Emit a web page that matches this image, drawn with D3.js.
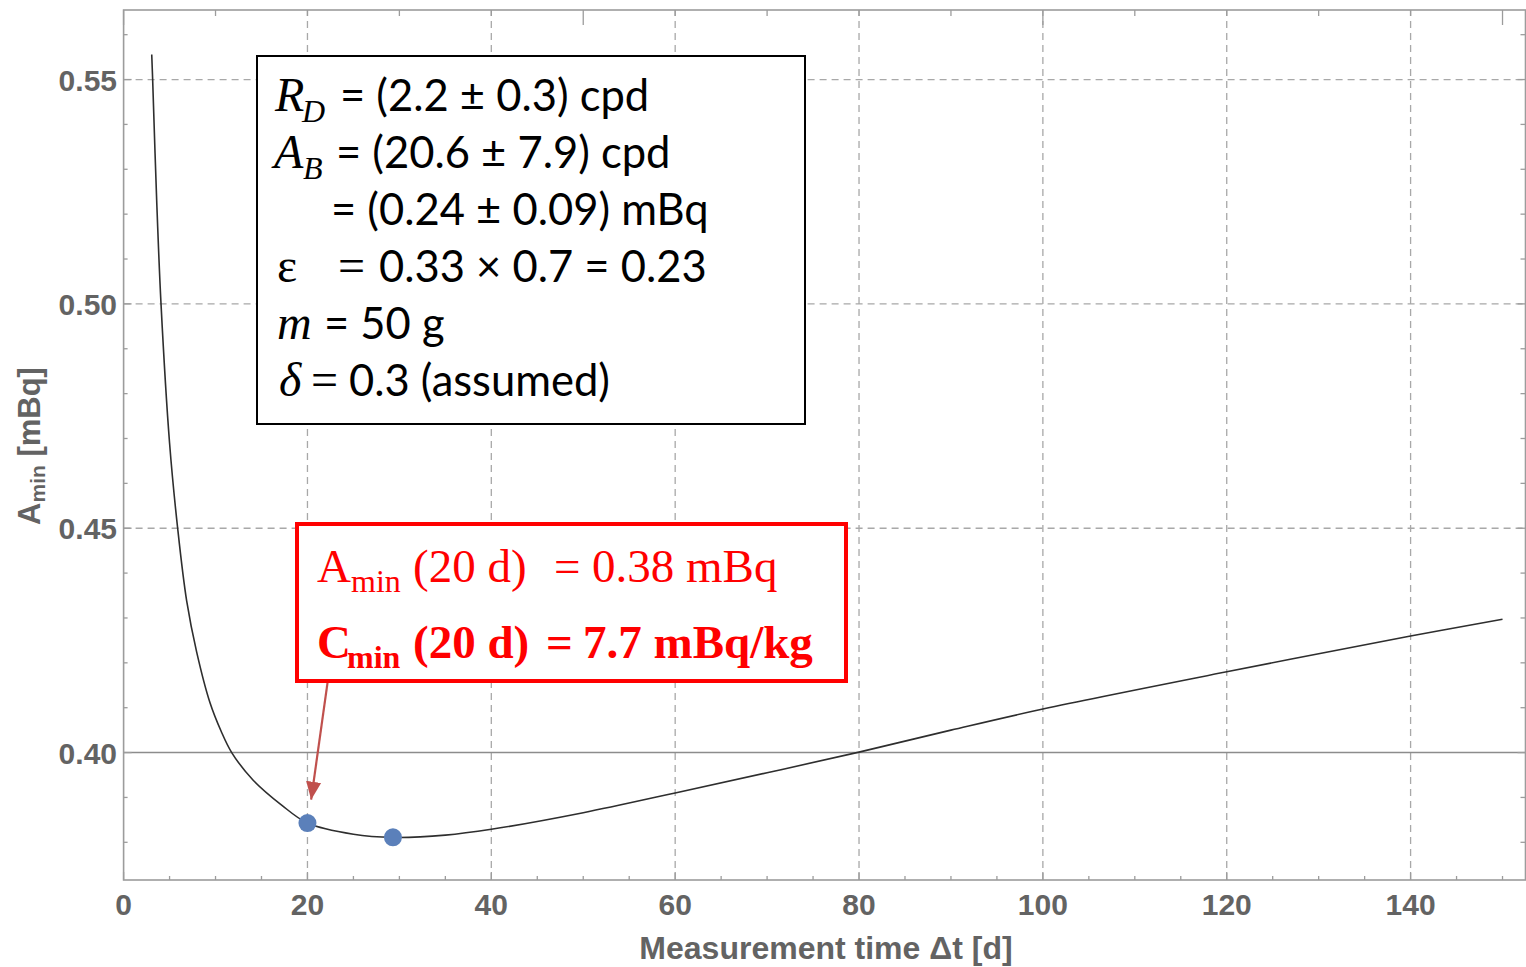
<!DOCTYPE html>
<html>
<head>
<meta charset="utf-8">
<script src="https://cdn.jsdelivr.net/npm/d3@7"></script>
<style>
  body { margin: 0; background: #fff; }
  svg { display: block; }
  .tick-label { font-family: "Liberation Sans", Arial, sans-serif; font-weight: bold; font-size: 30px; fill: #636363; }
  .sans { font-family: Lato, "Open Sans", sans-serif; }
  .serif { font-family: "Liberation Serif", "Times New Roman", serif; }
</style>
</head>
<body>
<svg id="chart" width="1526" height="967"></svg>
<script>
// A_min curve (t in days, A in mBq)
const tDays = [3.06, 3.16, 3.6, 4.07, 5.0, 5.88, 6.86, 7.95, 9.4, 10.6, 11.76, 14.07, 17.19, 20, 25, 29.3, 35, 40, 50, 60, 70, 80, 90, 100, 120, 140, 150];
const aMin  = [0.5556, 0.550, 0.523, 0.500, 0.469, 0.450, 0.4338, 0.4224, 0.4111, 0.4048, 0.400, 0.3939, 0.3883, 0.3843, 0.3818, 0.3811, 0.3816, 0.3829, 0.3866, 0.3910, 0.3955, 0.4001, 0.4050, 0.4097, 0.4180, 0.4260, 0.4297];

// highlighted points
const markT = [20, 29.3];
const markA = [0.3843, 0.3811];

// ticks
const xTicks = [0, 20, 40, 60, 80, 100, 120, 140];
const xTickLabels = ["0", "20", "40", "60", "80", "100", "120", "140"];
const yTicks = [0.40, 0.45, 0.50, 0.55];
const yTickLabels = ["0.40", "0.45", "0.50", "0.55"];
const xGrid = [20, 40, 60, 80, 100, 120, 140];
const yGrid = [0.45, 0.50, 0.55];

const svg = d3.select("#chart");

// scales (plot range padded a bit like the original)
const x = d3.scaleLinear().domain([0, 152.5]).range([123.6, 1525.5]);
const y = d3.scaleLinear().domain([0.3716, 0.5655]).range([880, 10]);

const frameColor = "#9c9c9c";

// --- grid ---
svg.append("g").selectAll("line")
  .data(xGrid).enter().append("line")
  .attr("x1", d => x(d)).attr("x2", d => x(d))
  .attr("y1", y.range()[0]).attr("y2", y.range()[1])
  .attr("stroke", "#a8a8a8").attr("stroke-width", 1.3)
  .attr("stroke-dasharray", "7,5");

svg.append("g").selectAll("line")
  .data(yGrid).enter().append("line")
  .attr("x1", x.range()[0]).attr("x2", x.range()[1])
  .attr("y1", d => y(d)).attr("y2", d => y(d))
  .attr("stroke", "#a8a8a8").attr("stroke-width", 1.3)
  .attr("stroke-dasharray", "7,5");

// axis line at 0.40
svg.append("line")
  .attr("x1", x.range()[0]).attr("x2", x.range()[1])
  .attr("y1", y(0.40)).attr("y2", y(0.40))
  .attr("stroke", "#8c8c8c").attr("stroke-width", 1.6);

// --- frame ---
svg.append("rect")
  .attr("x", x.range()[0]).attr("y", y.range()[1])
  .attr("width", x.range()[1] - x.range()[0])
  .attr("height", y.range()[0] - y.range()[1])
  .attr("fill", "none").attr("stroke", frameColor).attr("stroke-width", 1.6);

// frame ticks
const ticks = svg.append("g").attr("stroke", frameColor).attr("stroke-width", 1.3);
const bottomT = d3.range(0, 151, 5);
ticks.selectAll(".tb").data(bottomT).enter().append("line")
  .attr("x1", d => x(d)).attr("x2", d => x(d))
  .attr("y1", y.range()[0]).attr("y2", d => y.range()[0] - (d % 20 === 0 ? 8 : 4));
const topT = d3.range(0, 151, 10);
ticks.selectAll(".tt").data(topT).enter().append("line")
  .attr("x1", d => x(d)).attr("x2", d => x(d))
  .attr("y1", y.range()[1]).attr("y2", d => y.range()[1] + (d % 50 === 0 ? 15 : 6));
const sideT = d3.range(38, 57).map(d => d / 100);
ticks.selectAll(".tl").data(sideT).enter().append("line")
  .attr("x1", x.range()[0]).attr("x2", d => x.range()[0] + (Math.round(d * 100) % 5 === 0 ? 8 : 4))
  .attr("y1", d => y(d)).attr("y2", d => y(d));
ticks.selectAll(".tr").data(sideT).enter().append("line")
  .attr("x1", x.range()[1]).attr("x2", d => x.range()[1] - (Math.round(d * 100) % 5 === 0 ? 8 : 5))
  .attr("y1", d => y(d)).attr("y2", d => y(d));

// tick labels
svg.append("g").selectAll("text")
  .data(xTicks).enter().append("text")
  .attr("class", "tick-label")
  .attr("x", d => x(d)).attr("y", 915)
  .attr("text-anchor", "middle")
  .text((d, i) => xTickLabels[i]);

svg.append("g").selectAll("text")
  .data(yTicks).enter().append("text")
  .attr("class", "tick-label")
  .attr("x", 117).attr("y", d => y(d) + 11)
  .attr("text-anchor", "end")
  .text((d, i) => yTickLabels[i]);

// axis titles
svg.append("text")
  .attr("class", "tick-label")
  .attr("x", 826).attr("y", 959)
  .attr("text-anchor", "middle")
  .style("font-size", "32px")
  .text("Measurement time Δt [d]");

const yt = svg.append("text")
  .attr("class", "tick-label")
  .attr("transform", "translate(40,446) rotate(-90)")
  .attr("text-anchor", "middle")
  .style("font-size", "31px");
yt.append("tspan").text("A");
yt.append("tspan").attr("dy", 5).style("font-size", "21px").text("min");
yt.append("tspan").attr("dy", -5).text(" [mBq]");

// --- curve ---
const curveData = tDays.map((t, i) => ({ t: t, a: aMin[i] }));
const line = d3.line()
  .x(d => x(d.t))
  .y(d => y(d.a))
  .curve(d3.curveCatmullRom.alpha(0.5));

svg.append("path")
  .datum(curveData)
  .attr("fill", "none")
  .attr("stroke", "#2e2e2e")
  .attr("stroke-width", 1.6)
  .attr("d", line);

// --- points ---
svg.append("g").selectAll("circle")
  .data(markT.map((t, i) => ({ t: t, a: markA[i] })))
  .enter().append("circle")
  .attr("cx", d => x(d.t)).attr("cy", d => y(d.a))
  .attr("r", 9)
  .attr("fill", "#5b80ba");

// --- arrow from red box to 20 d point ---
svg.append("defs").append("marker")
  .attr("id", "arrowhead")
  .attr("viewBox", "0 0 10 10")
  .attr("refX", 10).attr("refY", 5)
  .attr("markerWidth", 18).attr("markerHeight", 18)
  .attr("markerUnits", "userSpaceOnUse")
  .attr("orient", "auto")
  .append("path").attr("d", "M0,0.8 L10,5 L0,9.2 Z").attr("fill", "#c0504d");

svg.append("line")
  .attr("x1", x(22.2)).attr("y1", y(0.4158))
  .attr("x2", x(20.4)).attr("y2", y(0.3895))
  .attr("stroke", "#c0504d").attr("stroke-width", 2.2)
  .attr("marker-end", "url(#arrowhead)");

// --- parameter box ---
svg.append("rect")
  .attr("x", 257).attr("y", 56).attr("width", 548).attr("height", 368)
  .attr("fill", "#fff").attr("stroke", "#000").attr("stroke-width", 2);

const box = svg.append("g").attr("fill", "#000");
const sansSize = 43.5, serifSize = 48, subSize = 32;

function seg(g, cls, px, py, txt, opts) {
  const t = g.append("text").attr("class", cls).attr("x", px).attr("y", py).text(txt);
  if (opts) Object.keys(opts).forEach(k => t.style(k, opts[k]));
  return t;
}

// line 1
seg(box, "serif", 275, 111, "R", { "font-style": "italic", "font-size": serifSize + "px" });
seg(box, "serif", 302, 122, "D", { "font-style": "italic", "font-size": subSize + "px" });
seg(box, "sans", 340, 111, "= (2.2 ± 0.3) cpd", { "font-size": sansSize + "px" });
// line 2
seg(box, "serif", 274, 168, "A", { "font-style": "italic", "font-size": serifSize + "px" });
seg(box, "serif", 303, 179, "B", { "font-style": "italic", "font-size": subSize + "px" });
seg(box, "sans", 336, 168, "= (20.6 ± 7.9) cpd", { "font-size": sansSize + "px" });
// line 3
seg(box, "sans", 331, 225, "= (0.24 ± 0.09) mBq", { "font-size": sansSize + "px" });
// line 4
seg(box, "serif", 277, 282, "ε", { "font-size": serifSize + "px" });
seg(box, "serif", 338, 282, "=", { "font-size": serifSize + "px" });
seg(box, "sans", 379, 282, "0.33 × 0.7 = 0.23", { "font-size": sansSize + "px" });
// line 5
seg(box, "serif", 277, 339, "m", { "font-style": "italic", "font-size": serifSize + "px" });
seg(box, "sans", 324, 339, "= 50 g", { "font-size": sansSize + "px" });
// line 6
seg(box, "serif", 279, 396, "δ", { "font-style": "italic", "font-size": serifSize + "px" });
seg(box, "serif", 311, 396, "=", { "font-size": serifSize + "px" });
seg(box, "sans", 349, 396, "0.3 (assumed)", { "font-size": sansSize + "px" });

// --- result box ---
svg.append("rect")
  .attr("x", 297).attr("y", 524).attr("width", 549).attr("height", 157)
  .attr("fill", "#fff").attr("stroke", "#ff0000").attr("stroke-width", 4);

const res = svg.append("g").attr("fill", "#ff0000");
const rSize = 47, rSub = 32;
seg(res, "serif", 317, 582, "A", { "font-size": rSize + "px" });
seg(res, "serif", 351, 592, "min", { "font-size": rSub + "px" });
seg(res, "serif", 413, 582, "(20 d)", { "font-size": rSize + "px" });
seg(res, "serif", 554, 582, "=", { "font-size": rSize + "px" });
seg(res, "serif", 592, 582, "0.38 mBq", { "font-size": rSize + "px" });

seg(res, "serif", 317, 658, "C", { "font-size": rSize + "px", "font-weight": "bold" });
seg(res, "serif", 347, 668, "min", { "font-size": rSub + "px", "font-weight": "bold" });
seg(res, "serif", 413, 658, "(20 d)", { "font-size": rSize + "px", "font-weight": "bold" });
seg(res, "serif", 546, 658, "=", { "font-size": rSize + "px", "font-weight": "bold" });
seg(res, "serif", 583, 658, "7.7 mBq/kg", { "font-size": rSize + "px", "font-weight": "bold" });
</script>
</body>
</html>
